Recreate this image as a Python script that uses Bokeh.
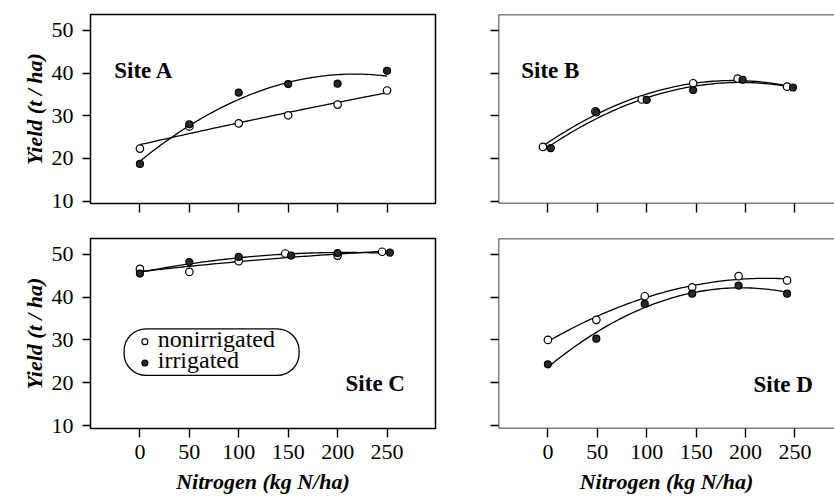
import numpy as np
from bokeh.plotting import figure
from bokeh.layouts import row, column
from bokeh.models import FixedTicker, Span, Label, Range1d, Title
from bokeh.embed import file_html
from bokeh.resources import INLINE

# ---------------- data ----------------
nitrogen_ticks = [0, 50, 100, 150, 200, 250]
yield_ticks = [10, 20, 30, 40, 50]

# Site A
a_n_non = [0, 50, 100, 150, 200, 250]
a_y_non = [22.3, 27.5, 28.2, 30.1, 32.6, 35.9]
a_n_irr = [0, 50, 100, 150, 200, 250]
a_y_irr = [18.7, 28.0, 35.4, 37.4, 37.5, 40.5]

# Site B
b_n_non = [-5, 48, 95, 147, 192, 242]
b_y_non = [22.7, 31.0, 33.8, 37.6, 38.7, 36.8]
b_n_irr = [3, 49, 100, 147, 197, 248]
b_y_irr = [22.4, 30.8, 33.7, 36.0, 38.4, 36.6]

# Site C
c_n_non = [0, 50, 100, 147, 200, 245]
c_y_non = [46.6, 45.9, 48.4, 50.2, 49.7, 50.6]
c_n_irr = [0, 50, 100, 153, 200, 253]
c_y_irr = [45.5, 48.2, 49.4, 49.7, 50.3, 50.4]

# Site D
d_n_non = [0, 49, 98, 146, 193, 242]
d_y_non = [30.0, 34.7, 40.2, 42.3, 44.9, 43.9]
d_n_irr = [0, 49, 98, 146, 193, 242]
d_y_irr = [24.3, 30.3, 38.4, 40.8, 42.7, 40.8]

site_names = ["Site A", "Site B", "Site C", "Site D"]
legend_labels = ["nonirrigated", "irrigated"]
x_title = "Nitrogen (kg N/ha)"
y_title = "Yield (t / ha)"

SERIF = "Liberation Serif"


def quad_fit(n, y):
    c = np.polyfit(n, y, 2)
    xs = np.linspace(min(n), max(n), 80)
    return xs, np.polyval(c, xs)


def panel(fw, fh, bl, br, bt, bb, xr, yr, show_xlab, ylab_offset, right_open):
    p = figure(frame_width=fw, frame_height=fh, output_backend="svg", toolbar_location=None,
               x_range=Range1d(*xr), y_range=Range1d(*yr),
               min_border_left=bl, min_border_right=br, min_border_top=bt, min_border_bottom=bb)
    p.background_fill_color = "white"
    p.border_fill_color = "white"
    p.xgrid.visible = False
    p.ygrid.visible = False
    if right_open:
        p.outline_line_color = None
        for loc, dim in ((xr[0], "height"), (yr[0], "width"), (yr[1], "width")):
            p.add_layout(Span(location=loc, dimension=dim, line_color="black", line_width=1.5))
    else:
        p.outline_line_color = "black"
        p.outline_line_width = 1.5
        p.outline_line_alpha = 1.0
    for ax in (p.xaxis[0], p.yaxis[0]):
        ax.axis_line_color = None
        ax.major_tick_line_color = "black"
        ax.major_tick_line_width = 1.4
        ax.major_tick_in = 0
        ax.minor_tick_line_color = None
        ax.major_label_text_font = SERIF
        ax.major_label_text_font_size = "22px"
        ax.major_label_text_color = "black"
        ax.axis_label_text_font = SERIF
        ax.axis_label_text_font_style = "bold italic"
        ax.axis_label_text_font_size = "22px"
        ax.axis_label_text_color = "black"
    p.xaxis.ticker = FixedTicker(ticks=nitrogen_ticks)
    p.yaxis.ticker = FixedTicker(ticks=yield_ticks)
    p.xaxis.major_tick_out = 9
    p.yaxis.major_tick_out = 8
    p.xaxis.major_label_standoff = 7
    p.yaxis.major_label_standoff = 9
    if show_xlab:
        p.xaxis.axis_label = x_title
        p.xaxis.axis_label_standoff = 7
    else:
        p.xaxis.major_label_overrides = {t: "" for t in nitrogen_ticks}
    if ylab_offset is not None:
        p.add_layout(Title(text=y_title, align="center", offset=ylab_offset, standoff=4,
                           text_font=SERIF, text_font_style="bold italic",
                           text_font_size="22px", text_color="black"), "left")
    else:
        p.yaxis.major_label_overrides = {t: "" for t in yield_ticks}
    return p


def draw_data(p, nn, yn, ni, yi):
    xs, ys = quad_fit(nn, yn)
    p.line(xs, ys, line_color="black", line_width=1.3)
    xs, ys = quad_fit(ni, yi)
    p.line(xs, ys, line_color="black", line_width=1.3)
    p.scatter(nn, yn, marker="circle", size=7.5, fill_color="white", line_color="black", line_width=1.2)
    p.scatter(ni, yi, marker="circle", size=7, fill_color="#2a2a2a", line_color="black", line_width=1.2)


def site_label(p, text, x, y):
    p.add_layout(Label(x=x, y=y, text=text, text_font=SERIF, text_font_style="bold",
                       text_font_size="23px", text_color="black", text_align="left",
                       text_baseline="alphabetic"))


# frame geometry (pixels)
FW_L, FW_R = 345, 336
FH_T, FH_B = 189, 190
BL_L, BR_L = 90, 25
BL_R, BR_R = 38, 0
BT_T, BB_T = 14, 25
BT_B, BB_B = 10, 72

XR_L = (-50, 299)
XR_R = (-50, 290)
YR_T = (9.44, 53.7)
YR_B = (9.3, 53.7)

pA = panel(FW_L, FH_T, BL_L, BR_L, BT_T, BB_T, XR_L, YR_T, False, -15, False)
draw_data(pA, a_n_non, a_y_non, a_n_irr, a_y_irr)
site_label(pA, site_names[0], -26, 40.6)

pB = panel(FW_R, FH_T, BL_R, BR_R, BT_T, BB_T, XR_R, YR_T, False, None, True)
draw_data(pB, b_n_non, b_y_non, b_n_irr, b_y_irr)
site_label(pB, site_names[1], -27, 40.7)

pC = panel(FW_L, FH_B, BL_L, BR_L, BT_B, BB_B, XR_L, YR_B, True, -4, False)
draw_data(pC, c_n_non, c_y_non, c_n_irr, c_y_irr)
site_label(pC, site_names[2], 208, 19.7)

# legend box in Site C
pC.quad(left=[-16], right=[161], bottom=[21.7], top=[32.6], fill_color=None,
        line_color="black", line_width=1.3, border_radius=22)
pC.scatter([5], [29.6], marker="circle", size=6, fill_color="white", line_color="black", line_width=1.1)
pC.scatter([5], [24.6], marker="circle", size=6, fill_color="#2a2a2a", line_color="black", line_width=1.1)
for txt, yy in zip(legend_labels, [30.2, 25.4]):
    pC.add_layout(Label(x=18, y=yy, text=txt, text_font=SERIF, text_font_size="24px",
                        text_color="black", text_align="left", text_baseline="middle"))

pD = panel(FW_R, FH_B, BL_R, BR_R, BT_B, BB_B, XR_R, YR_B, True, None, True)
draw_data(pD, d_n_non, d_y_non, d_n_irr, d_y_irr)
site_label(pD, site_names[3], 208, 19.5)

layout = row(column(pA, pC), column(pB, pD))
open("out.html", "w").write(file_html(layout, INLINE))
